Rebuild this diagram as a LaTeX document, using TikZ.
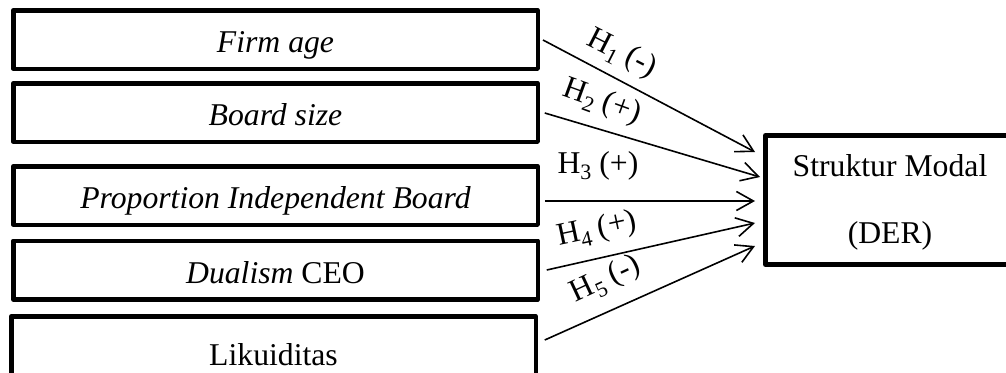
\documentclass[tikz,border=0pt]{standalone}
\usepackage{fontspec}
\setmainfont{Liberation Serif}
\usetikzlibrary{arrows.meta}
\newcommand{\hsubdigit}[1]{\raisebox{-0.22em}{\fontsize{22}{22}\selectfont #1}}
\begin{document}
\begin{tikzpicture}[x=1pt,y=-1pt,
  box/.style={draw, line width=4.5pt, line join=round, inner sep=0pt, outer sep=0pt,
    minimum width=524.5pt, minimum height=58.5pt, text height=26pt, text depth=0pt,
    font=\fontsize{31.7}{38}\selectfont},
  bigbox/.style={draw, line width=5pt, line join=round, inner sep=0pt, outer sep=0pt,
    minimum width=300pt, minimum height=129pt},
  txt/.style={inner sep=0pt, font=\fontsize{31.7}{38}\selectfont},
  lbl/.style={inner sep=0pt, font=\fontsize{31.7}{38}\selectfont},
  arr/.style={line width=1.6pt, -{Straight Barb[length=17pt, width=19pt, line width=1.6pt]}}
]
\useasboundingbox (0,0) rectangle (1006,372);
\clip (0,0) rectangle (1006,372);

\node[box] (fa) at (275.5,39.5) {\textit{Firm age}};
\node[box] (bs) at (275.5,112.5) {\textit{Board size}};
\node[box] (pib) at (275.5,195.5) {\textit{Proportion Independent Board}};
\node[box] (dc) at (275.5,270) {\textit{Dualism} CEO};
\node[box, minimum height=71.5pt] (lk) at (273.5,352) {Likuiditas};

\node[bigbox] (sm) at (915.5,200) {};
\node[txt, anchor=base] (sm1) at (890,176) {Struktur Modal};
\node[txt, anchor=base] (sm2) at (890,243) {(DER)};

\draw[arr] ([xshift=5.25pt,yshift=-0.5pt]fa.east) -- ([xshift=-10.5pt,yshift=48pt]sm.west);
\draw[arr] ([xshift=7pt,yshift=-0.5pt]bs.east) -- ([xshift=-5.5pt,yshift=23pt]sm.west);
\draw[arr] ([xshift=7pt,yshift=-5.5pt]pib.east) -- ([xshift=-10.5pt,yshift=-1pt]sm.west);
\draw[arr] ([xshift=9pt]dc.east) -- ([xshift=-10.5pt,yshift=-23pt]sm.west);
\draw[arr] ([xshift=9pt,yshift=12pt]lk.east) -- ([xshift=-10.5pt,yshift=-46pt]sm.west);

\node[lbl, rotate=-27] (l1) at (622,54) {H\hsubdigit{1} (-)};
\node[lbl, rotate=-20] (l2) at (602,102) {H\hsubdigit{2} (+)};
\node[lbl, anchor=base] (l3) at (598,173) {H\hsubdigit{3} (+)};
\node[lbl, rotate=12] (l4) at (597,230) {H\hsubdigit{4} (+)};
\node[lbl, rotate=25] (l5) at (606,280) {H\hsubdigit{5} (-)};
\end{tikzpicture}
\end{document}
